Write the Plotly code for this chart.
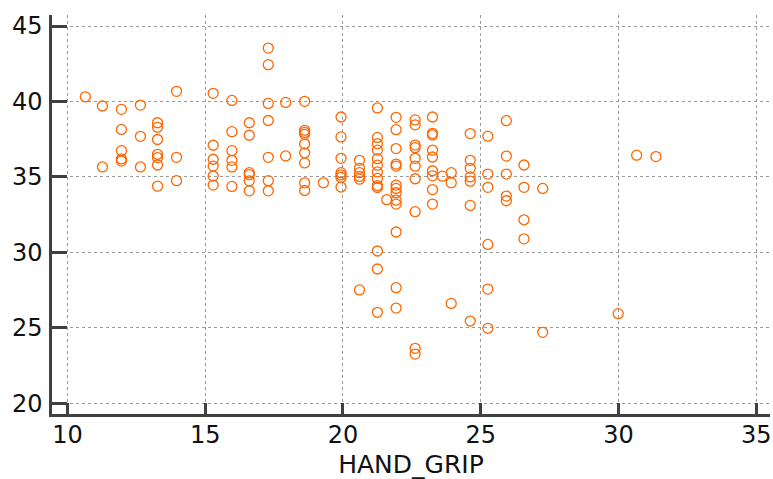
import plotly.graph_objects as go

hand_grip = [
    10.65,
    11.27, 11.27,
    11.96, 11.96, 11.96, 11.96, 11.96,
    12.65, 12.65, 12.65,
    13.27, 13.27, 13.27, 13.27, 13.27, 13.27, 13.27,
    13.96, 13.96, 13.96,
    15.29, 15.29, 15.29, 15.29, 15.29, 15.29,
    15.97, 15.97, 15.97, 15.97, 15.97, 15.97,
    16.60, 16.60, 16.60, 16.60, 16.60, 16.60,
    17.29, 17.29, 17.29, 17.29, 17.29, 17.29, 17.29,
    17.92, 17.92,
    18.61, 18.61, 18.61, 18.61, 18.61, 18.61, 18.61, 18.61, 18.61,
    19.29,
    19.93, 19.93, 19.93, 19.93, 19.93, 19.93, 19.93,
    20.60, 20.60, 20.60, 20.60, 20.60, 20.60,
    21.25, 21.25, 21.25, 21.25, 21.25, 21.25, 21.25, 21.25, 21.25, 21.25, 21.25, 21.25, 21.25,
    21.59,
    21.93, 21.93, 21.93, 21.93, 21.93, 21.93, 21.93, 21.93, 21.93, 21.93, 21.93, 21.93, 21.93,
    22.62, 22.62, 22.62, 22.62, 22.62, 22.62, 22.62, 22.62, 22.62, 22.62,
    23.25, 23.25, 23.25, 23.25, 23.25, 23.25, 23.25, 23.25, 23.25,
    23.61,
    23.93, 23.93, 23.93,
    24.62, 24.62, 24.62, 24.62, 24.62, 24.62, 24.62,
    25.26, 25.26, 25.26, 25.26, 25.26, 25.26,
    25.93, 25.93, 25.93, 25.93, 25.93,
    26.57, 26.57, 26.57, 26.57,
    27.25, 27.25,
    29.99,
    30.66,
    31.36,
]

values = [
    40.31,
    39.70, 35.66,
    39.48, 38.15, 36.74, 36.19, 36.05,
    39.76, 37.69, 35.66,
    38.59, 38.29, 37.48, 36.50, 36.28, 35.79, 34.39,
    40.67, 36.30, 34.75,
    40.54, 37.10, 36.17, 35.72, 35.06, 34.46,
    40.07, 38.00, 36.74, 36.10, 35.66, 34.37,
    38.59, 37.76, 35.28, 35.15, 34.74, 34.08,
    43.54, 42.44, 39.87, 38.74, 36.30, 34.75, 34.08,
    39.94, 36.39,
    40.01, 38.09, 37.95, 37.82, 37.18, 36.60, 35.93, 34.61, 34.10,
    34.61,
    38.97, 37.65, 36.23, 35.28, 35.13, 34.97, 34.33,
    36.10, 35.57, 35.28, 35.03, 34.85, 27.51,
    39.57, 37.62, 37.20, 36.77, 36.21, 35.78, 35.33, 34.90, 34.43, 34.30, 30.09, 28.90, 26.03,
    33.49,
    38.95, 38.13, 36.88, 35.85, 35.72, 34.46, 34.24, 33.95, 33.46, 33.20, 31.35, 27.66, 26.31,
    38.78, 38.45, 37.11, 36.94, 36.23, 35.71, 34.88, 32.70, 23.64, 23.26,
    38.97, 37.89, 37.78, 36.77, 36.32, 35.41, 35.07, 34.16, 33.20,
    35.05,
    35.28, 34.61, 26.62,
    37.87, 36.10, 35.57, 35.00, 34.72, 33.11, 25.45,
    37.70, 35.19, 34.31, 30.53, 27.57, 24.97,
    38.73, 36.38, 35.19, 33.73, 33.42,
    35.79, 34.31, 32.16, 30.90,
    34.24, 24.70,
    25.94,
    36.44,
    36.35,
]

x_ticks = [10, 15, 20, 25, 30, 35]
y_ticks = [20, 25, 30, 35, 40, 45]
x_title = "HAND_GRIP"

fig = go.Figure()
fig.add_trace(go.Scatter(
    x=hand_grip, y=values, mode="markers",
    marker=dict(symbol="circle-open", size=10, color="#FF6600",
                line=dict(width=1.3, color="#FF6600")),
    showlegend=False, cliponaxis=False,
))

font_family = "DejaVu Sans"
axis_color = "#404040"
grid_color = "#9a9a9a"

fig.update_layout(
    width=773, height=479,
    margin=dict(l=52, r=3, t=15, b=65),
    paper_bgcolor="white", plot_bgcolor="white",
    font=dict(family=font_family, size=24, color="#111111"),
    xaxis=dict(
        range=[9.44, 35.5], tickvals=x_ticks, ticktext=[str(v) for v in x_ticks],
        automargin=False,
        showgrid=True, gridcolor=grid_color, griddash="dot", gridwidth=1,
        zeroline=False, showline=True, linecolor=axis_color, linewidth=2.5,
        ticks="inside", ticklen=11, tickwidth=2.5, tickcolor=axis_color,
        ticklabelstandoff=-3,
        title=dict(text=x_title, font=dict(family=font_family, size=25), standoff=8),
        tickfont=dict(family=font_family, size=24),
    ),
    yaxis=dict(
        range=[19.29, 45.73], tickvals=y_ticks, ticktext=[str(v) for v in y_ticks],
        automargin=False,
        showgrid=True, gridcolor=grid_color, griddash="dot", gridwidth=1,
        zeroline=False, showline=True, linecolor=axis_color, linewidth=2.5,
        ticks="inside", ticklen=15, tickwidth=2.5, tickcolor=axis_color,
        ticklabelstandoff=2,
        tickfont=dict(family=font_family, size=24),
    ),
)

fig.write_html("out.html", config={"displayModeBar": False},
               post_script="document.body.style.margin='0';")
